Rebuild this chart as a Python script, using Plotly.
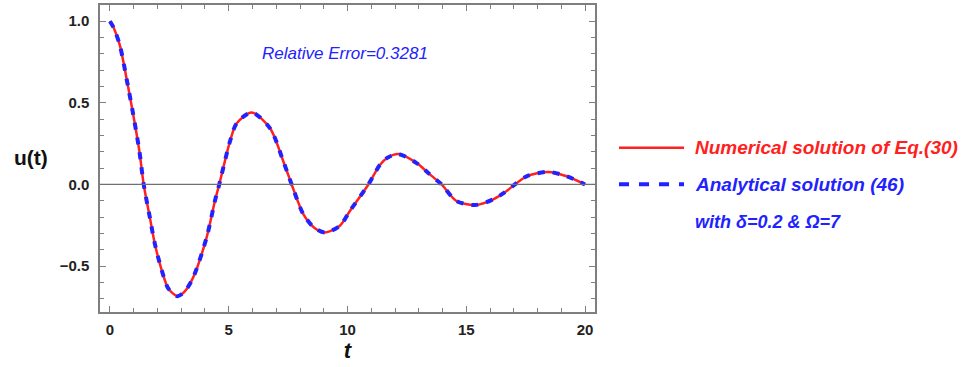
import plotly.graph_objects as go

# Data
t_vals = [0.0, 0.17, 0.42, 0.70, 1.02, 1.24, 1.42, 1.68, 1.89, 2.18, 2.46, 2.84, 3.15, 3.51,
          4.07, 4.42, 4.60, 5.05, 5.33, 5.97, 6.74, 7.30, 7.65, 8.14, 8.60, 9.05, 9.68,
          10.10, 10.88, 11.37, 11.70, 12.14, 12.91, 13.40, 13.96, 14.59, 15.37, 16.14,
          16.60, 17.05, 17.54, 18.45, 19.23, 20.0]
numerical_u = [1.0, 0.955, 0.85, 0.647, 0.395, 0.202, 0.0, -0.203, -0.364, -0.526, -0.638, -0.684,
               -0.655, -0.567, -0.324, -0.10, 0.0, 0.263, 0.374, 0.441, 0.344, 0.141, 0.0,
               -0.182, -0.265, -0.294, -0.253, -0.162, 0.0, 0.121, 0.165, 0.186, 0.131, 0.07,
               0.0, -0.101, -0.126, -0.091, -0.05, 0.0, 0.050, 0.077, 0.050, 0.0]
analytical_u = list(numerical_u)

x_ticks = [0, 5, 10, 15, 20]
y_ticks = [-0.5, 0.0, 0.5, 1.0]
y_tick_text = ["\u22120.5", "0.0", "0.5", "1.0"]

RED = "#ff2020"
BLUE = "#2222ff"
FONT = "Liberation Sans, Arial, sans-serif"
FRAME = "#7f7f7f"

fig = go.Figure()
fig.add_trace(go.Scatter(x=t_vals, y=numerical_u, mode="lines",
                         line=dict(color=RED, width=2.5, shape="spline", smoothing=0.8),
                         name="Numerical solution of Eq.(30)", showlegend=False))
fig.add_trace(go.Scatter(x=t_vals, y=analytical_u, mode="lines",
                         line=dict(color=BLUE, width=4, dash="7px,8px", shape="spline", smoothing=0.8),
                         name="Analytical solution (46)", showlegend=False))

axis_common = dict(showline=True, linecolor=FRAME, linewidth=1.5, mirror="allticks",
                   ticks="inside", ticklen=6, tickcolor=FRAME, tickwidth=1,
                   showgrid=False, zeroline=False,
                   tickfont=dict(family=FONT, size=15, color="#222222", weight="bold"))

fig.update_xaxes(range=[-0.42, 20.42], tickvals=x_ticks, ticklabelstandoff=3,
                 minor=dict(dtick=1, ticks="inside", ticklen=4, tickcolor=FRAME, showgrid=False),
                 title=dict(text="<b><i>t</i></b>", font=dict(family=FONT, size=22, color="#111111"), standoff=2),
                 **axis_common)
fig.update_yaxes(range=[-0.781, 1.099], tickvals=y_ticks, ticktext=y_tick_text, ticklabelstandoff=6,
                 minor=dict(dtick=0.1, ticks="inside", ticklen=4, tickcolor=FRAME, showgrid=False),
                 **axis_common)

# zero line
fig.add_hline(y=0, line=dict(color="#707070", width=1.2))

# y axis title (horizontal)
fig.add_annotation(x=0, y=0.502, xref="paper", yref="paper", text="<b>u(t)</b>",
                   showarrow=False, font=dict(family=FONT, size=21, color="#111111"),
                   xanchor="right", yanchor="middle", xshift=-50)

fig.add_annotation(x=9.9, y=0.80, xref="x", yref="y", text="<i>Relative Error=0.3281</i>",
                   showarrow=False, font=dict(family=FONT, size=17, color=BLUE),
                   xanchor="center", yanchor="middle")

# legend (drawn outside the frame)
fig.add_shape(type="line", xref="paper", yref="paper", x0=1.0485, x1=1.1798, y0=0.535, y1=0.535,
              line=dict(color=RED, width=2.5))
fig.add_shape(type="line", xref="paper", yref="paper", x0=1.0485, x1=1.1798, y0=0.416, y1=0.416,
              line=dict(color=BLUE, width=4, dash="10px,10px"))
fig.add_annotation(x=1.198, y=0.535, xref="paper", yref="paper",
                   text="<b><i>Numerical solution of Eq.(30)</i></b>", showarrow=False,
                   font=dict(family=FONT, size=19, color=RED), xanchor="left", yanchor="middle")
fig.add_annotation(x=1.198, y=0.416, xref="paper", yref="paper",
                   text="<b><i>Analytical solution (46)</i></b>", showarrow=False,
                   font=dict(family=FONT, size=19, color=BLUE), xanchor="left", yanchor="middle")
fig.add_annotation(x=1.198, y=0.292, xref="paper", yref="paper",
                   text="<b><i>with \u03b4=0.2 & \u03a9=7</i></b>", showarrow=False,
                   font=dict(family=FONT, size=18, color=BLUE), xanchor="left", yanchor="middle")

fig.update_layout(width=965, height=367, margin=dict(l=100, r=370, t=3, b=55),
                  paper_bgcolor="white", plot_bgcolor="white", showlegend=False,
                  font=dict(family=FONT))

fig.write_html("out.html")
